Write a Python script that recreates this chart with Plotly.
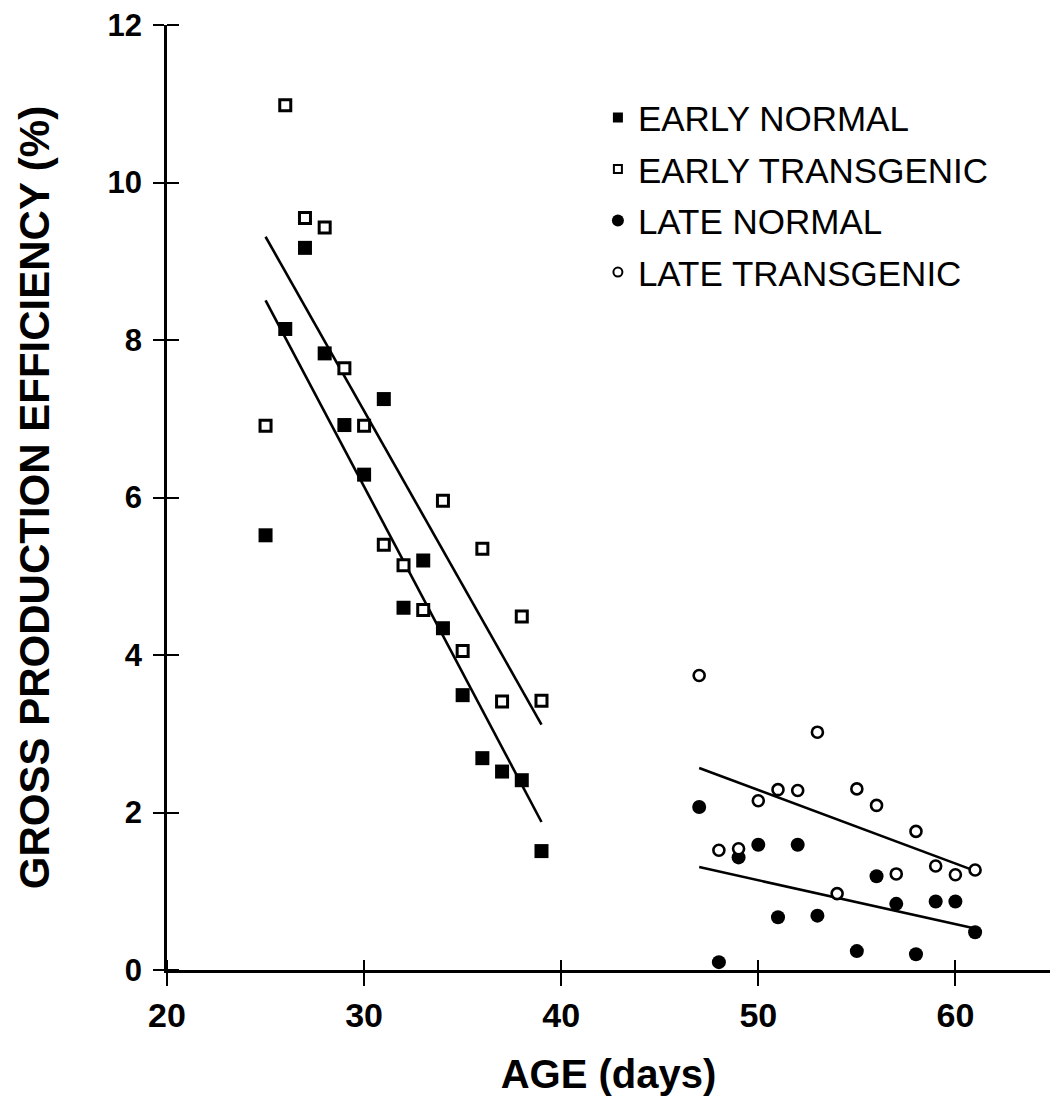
import numpy as np
import plotly.graph_objects as go

# Gross production efficiency (%) against age (days)
early_days = [25, 26, 27, 28, 29, 30, 31, 32, 33, 34, 35, 36, 37, 38, 39]
early_normal = [5.52, 8.14, 9.17, 7.83, 6.92, 6.29, 7.25, 4.60, 5.20, 4.34,
                3.49, 2.69, 2.52, 2.41, 1.51]
early_transgenic = [6.91, 10.98, 9.55, 9.43, 7.64, 6.91, 5.40, 5.14, 4.57, 5.96,
                    4.05, 5.35, 3.41, 4.49, 3.42]

late_normal_days = [47, 48, 49, 50, 51, 52, 53, 55, 56, 57, 58, 59, 60, 61]
late_normal = [2.07, 0.10, 1.43, 1.59, 0.67, 1.59, 0.69, 0.24, 1.19, 0.84,
               0.20, 0.87, 0.87, 0.48]
late_trans_days = [47, 48, 49, 50, 51, 52, 53, 54, 55, 56, 57, 58, 59, 60, 61]
late_transgenic = [3.74, 1.52, 1.54, 2.15, 2.29, 2.28, 3.02, 0.97, 2.30, 2.09,
                   1.22, 1.76, 1.32, 1.21, 1.27]

x_ticks = [20, 30, 40, 50, 60]
y_ticks = [0, 2, 4, 6, 8, 10, 12]
x_range = [20, 64.8]
y_range = [0, 12]

FONT = "Liberation Sans, Arial, sans-serif"

fig = go.Figure()

# least-squares trend line for each group, drawn across its own age span
for xs, ys in [(early_days, early_normal), (early_days, early_transgenic),
               (late_normal_days, late_normal), (late_trans_days, late_transgenic)]:
    slope, icpt = np.polyfit(xs, ys, 1)
    xe = np.array([min(xs), max(xs)], dtype=float)
    fig.add_trace(go.Scatter(x=xe, y=slope * xe + icpt, mode="lines",
                             line=dict(color="black", width=2.6),
                             showlegend=False, hoverinfo="skip"))

series = [
    ("EARLY NORMAL", early_days, early_normal, "square", "black", 14, 0, 10),
    ("EARLY TRANSGENIC", early_days, early_transgenic, "square", "white", 11, 3, 8),
    ("LATE NORMAL", late_normal_days, late_normal, "circle", "black", 14, 0, 12),
    ("LATE TRANSGENIC", late_trans_days, late_transgenic, "circle", "white", 11, 2.6, 9),
]

for name, xs, ys, sym, fill, size, lw, leg_size in series:
    fig.add_trace(go.Scatter(
        x=xs, y=ys, mode="markers", name=name, showlegend=False,
        marker=dict(symbol=sym, color=fill, size=size,
                    line=dict(color="black", width=lw)),
    ))

# legend entries with their own (smaller) key symbols
for name, xs, ys, sym, fill, size, lw, leg_size in series:
    fig.add_trace(go.Scatter(
        x=[None], y=[None], mode="markers", name=name, showlegend=True,
        legendgroup=name,
        marker=dict(symbol=sym, color=fill, size=leg_size,
                    line=dict(color="black", width=min(lw, 2))),
    ))

axis_common = dict(showgrid=False, zeroline=False, showline=True,
                   linecolor="black", linewidth=2.6, tickcolor="black",
                   tickwidth=2, ticks="outside", tickmode="array")


def inner_ticks(vals, length):
    # inside half of each tick, so the marks cross the axis line
    return dict(ticks="inside", tickmode="array", tickvals=vals, ticklen=length,
                tickwidth=2, tickcolor="black", showgrid=False)


fig.update_layout(
    width=1052, height=1110,
    margin=dict(l=167, r=2, t=25, b=140),
    paper_bgcolor="white", plot_bgcolor="white",
    font=dict(family=FONT, color="black"),
    showlegend=True,
    legend=dict(x=0.488, y=0.933, xanchor="left", yanchor="top",
                bgcolor="rgba(0,0,0,0)", borderwidth=0, tracegroupgap=3,
                font=dict(family=FONT, size=35, color="black")),
    xaxis=dict(**axis_common, range=x_range, tickvals=x_ticks, ticklen=13,
               minor=inner_ticks(x_ticks, 10),
               tickfont=dict(family=FONT, size=34, weight="bold"),
               title=dict(text="AGE (days)", standoff=28,
                          font=dict(family=FONT, size=40, weight="bold"))),
    yaxis=dict(**axis_common, range=y_range, tickvals=y_ticks, ticklen=11,
               minor=inner_ticks(y_ticks, 12),
               ticklabelstandoff=5,
               tickfont=dict(family=FONT, size=31, weight="bold"),
               title=dict(text="GROSS PRODUCTION EFFICIENCY (%)", standoff=45,
                          font=dict(family=FONT, size=42, weight="bold"))),
)

fig.write_html("out.html")
